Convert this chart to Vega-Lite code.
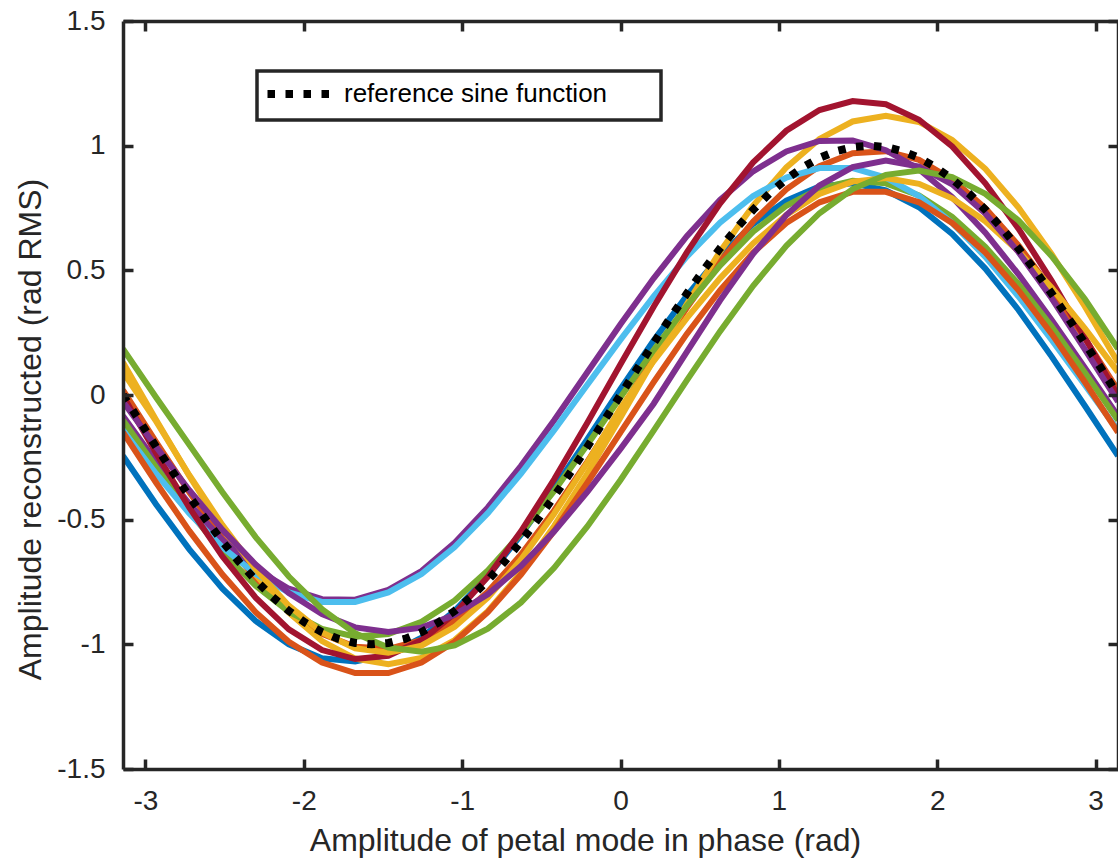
{
"$schema": "https://vega.github.io/schema/vega-lite/v6.json",
"width": 995, "height": 748,
"autosize": {"type": "none"},
"padding": {"left": 123, "top": 21, "right": 0, "bottom": 91},
"background": "white",
"config": {"view": {"stroke": null}, "font": "Liberation Sans"},
"title": {"text": "(a)", "fontSize": 31, "font": "Liberation Sans", "fontWeight": "normal", "color": "#262626", "offset": 23, "baseline": "alphabetic", "dx": -51},
"datasets": {
"recon": [
{"run":"r01","x":-3.1416,"y":-0.244},{"run":"r01","x":-2.9322,"y":-0.439},{"run":"r01","x":-2.7227,"y":-0.619},{"run":"r01","x":-2.5133,"y":-0.777},{"run":"r01","x":-2.3038,"y":-0.906},{"run":"r01","x":-2.0944,"y":-1.0},{"run":"r01","x":-1.885,"y":-1.056},{"run":"r01","x":-1.6755,"y":-1.069},{"run":"r01","x":-1.4661,"y":-1.041},{"run":"r01","x":-1.2566,"y":-0.973},{"run":"r01","x":-1.0472,"y":-0.866},{"run":"r01","x":-0.8378,"y":-0.727},{"run":"r01","x":-0.6283,"y":-0.561},{"run":"r01","x":-0.4189,"y":-0.374},{"run":"r01","x":-0.2094,"y":-0.177},{"run":"r01","x":0,"y":0.024},{"run":"r01","x":0.2094,"y":0.219},{"run":"r01","x":0.4189,"y":0.399},{"run":"r01","x":0.6283,"y":0.557},{"run":"r01","x":0.8378,"y":0.686},{"run":"r01","x":1.0472,"y":0.78},{"run":"r01","x":1.2566,"y":0.836},{"run":"r01","x":1.4661,"y":0.849},{"run":"r01","x":1.6755,"y":0.821},{"run":"r01","x":1.885,"y":0.753},{"run":"r01","x":2.0944,"y":0.646},{"run":"r01","x":2.3038,"y":0.507},{"run":"r01","x":2.5133,"y":0.341},{"run":"r01","x":2.7227,"y":0.154},{"run":"r01","x":2.9322,"y":-0.043},{"run":"r01","x":3.1416,"y":-0.244},
{"run":"r02","x":-3.1416,"y":0.02},{"run":"r02","x":-2.9322,"y":-0.189},{"run":"r02","x":-2.7227,"y":-0.39},{"run":"r02","x":-2.5133,"y":-0.575},{"run":"r02","x":-2.3038,"y":-0.736},{"run":"r02","x":-2.0944,"y":-0.865},{"run":"r02","x":-1.885,"y":-0.958},{"run":"r02","x":-1.6755,"y":-1.01},{"run":"r02","x":-1.4661,"y":-1.018},{"run":"r02","x":-1.2566,"y":-0.983},{"run":"r02","x":-1.0472,"y":-0.905},{"run":"r02","x":-0.8378,"y":-0.789},{"run":"r02","x":-0.6283,"y":-0.64},{"run":"r02","x":-0.4189,"y":-0.463},{"run":"r02","x":-0.2094,"y":-0.267},{"run":"r02","x":0,"y":-0.06},{"run":"r02","x":0.2094,"y":0.149},{"run":"r02","x":0.4189,"y":0.35},{"run":"r02","x":0.6283,"y":0.535},{"run":"r02","x":0.8378,"y":0.696},{"run":"r02","x":1.0472,"y":0.825},{"run":"r02","x":1.2566,"y":0.918},{"run":"r02","x":1.4661,"y":0.97},{"run":"r02","x":1.6755,"y":0.978},{"run":"r02","x":1.885,"y":0.943},{"run":"r02","x":2.0944,"y":0.865},{"run":"r02","x":2.3038,"y":0.749},{"run":"r02","x":2.5133,"y":0.6},{"run":"r02","x":2.7227,"y":0.423},{"run":"r02","x":2.9322,"y":0.227},{"run":"r02","x":3.1416,"y":0.02},
{"run":"r03","x":-3.1416,"y":0.13},{"run":"r03","x":-2.9322,"y":-0.1},{"run":"r03","x":-2.7227,"y":-0.325},{"run":"r03","x":-2.5133,"y":-0.535},{"run":"r03","x":-2.3038,"y":-0.72},{"run":"r03","x":-2.0944,"y":-0.873},{"run":"r03","x":-1.885,"y":-0.987},{"run":"r03","x":-1.6755,"y":-1.057},{"run":"r03","x":-1.4661,"y":-1.08},{"run":"r03","x":-1.2566,"y":-1.055},{"run":"r03","x":-1.0472,"y":-0.983},{"run":"r03","x":-0.8378,"y":-0.867},{"run":"r03","x":-0.6283,"y":-0.712},{"run":"r03","x":-0.4189,"y":-0.525},{"run":"r03","x":-0.2094,"y":-0.315},{"run":"r03","x":0,"y":-0.09},{"run":"r03","x":0.2094,"y":0.14},{"run":"r03","x":0.4189,"y":0.365},{"run":"r03","x":0.6283,"y":0.575},{"run":"r03","x":0.8378,"y":0.76},{"run":"r03","x":1.0472,"y":0.913},{"run":"r03","x":1.2566,"y":1.027},{"run":"r03","x":1.4661,"y":1.097},{"run":"r03","x":1.6755,"y":1.12},{"run":"r03","x":1.885,"y":1.095},{"run":"r03","x":2.0944,"y":1.023},{"run":"r03","x":2.3038,"y":0.907},{"run":"r03","x":2.5133,"y":0.752},{"run":"r03","x":2.7227,"y":0.565},{"run":"r03","x":2.9322,"y":0.355},{"run":"r03","x":3.1416,"y":0.13},
{"run":"r04","x":-3.1416,"y":-0.084},{"run":"r04","x":-2.9322,"y":-0.268},{"run":"r04","x":-2.7227,"y":-0.437},{"run":"r04","x":-2.5133,"y":-0.582},{"run":"r04","x":-2.3038,"y":-0.697},{"run":"r04","x":-2.0944,"y":-0.777},{"run":"r04","x":-1.885,"y":-0.819},{"run":"r04","x":-1.6755,"y":-0.821},{"run":"r04","x":-1.4661,"y":-0.782},{"run":"r04","x":-1.2566,"y":-0.706},{"run":"r04","x":-1.0472,"y":-0.593},{"run":"r04","x":-0.8378,"y":-0.451},{"run":"r04","x":-0.6283,"y":-0.284},{"run":"r04","x":-0.4189,"y":-0.101},{"run":"r04","x":-0.2094,"y":0.091},{"run":"r04","x":0,"y":0.284},{"run":"r04","x":0.2094,"y":0.468},{"run":"r04","x":0.4189,"y":0.637},{"run":"r04","x":0.6283,"y":0.782},{"run":"r04","x":0.8378,"y":0.897},{"run":"r04","x":1.0472,"y":0.977},{"run":"r04","x":1.2566,"y":1.019},{"run":"r04","x":1.4661,"y":1.021},{"run":"r04","x":1.6755,"y":0.982},{"run":"r04","x":1.885,"y":0.906},{"run":"r04","x":2.0944,"y":0.793},{"run":"r04","x":2.3038,"y":0.651},{"run":"r04","x":2.5133,"y":0.484},{"run":"r04","x":2.7227,"y":0.301},{"run":"r04","x":2.9322,"y":0.109},{"run":"r04","x":3.1416,"y":-0.084},
{"run":"r05","x":-3.1416,"y":-0.101},{"run":"r05","x":-2.9322,"y":-0.29},{"run":"r05","x":-2.7227,"y":-0.468},{"run":"r05","x":-2.5133,"y":-0.629},{"run":"r05","x":-2.3038,"y":-0.765},{"run":"r05","x":-2.0944,"y":-0.869},{"run":"r05","x":-1.885,"y":-0.938},{"run":"r05","x":-1.6755,"y":-0.969},{"run":"r05","x":-1.4661,"y":-0.959},{"run":"r05","x":-1.2566,"y":-0.91},{"run":"r05","x":-1.0472,"y":-0.824},{"run":"r05","x":-0.8378,"y":-0.704},{"run":"r05","x":-0.6283,"y":-0.555},{"run":"r05","x":-0.4189,"y":-0.385},{"run":"r05","x":-0.2094,"y":-0.2},{"run":"r05","x":0,"y":-0.009},{"run":"r05","x":0.2094,"y":0.18},{"run":"r05","x":0.4189,"y":0.358},{"run":"r05","x":0.6283,"y":0.519},{"run":"r05","x":0.8378,"y":0.655},{"run":"r05","x":1.0472,"y":0.759},{"run":"r05","x":1.2566,"y":0.828},{"run":"r05","x":1.4661,"y":0.859},{"run":"r05","x":1.6755,"y":0.849},{"run":"r05","x":1.885,"y":0.8},{"run":"r05","x":2.0944,"y":0.714},{"run":"r05","x":2.3038,"y":0.594},{"run":"r05","x":2.5133,"y":0.445},{"run":"r05","x":2.7227,"y":0.275},{"run":"r05","x":2.9322,"y":0.09},{"run":"r05","x":3.1416,"y":-0.101},
{"run":"r06","x":-3.1416,"y":-0.142},{"run":"r06","x":-2.9322,"y":-0.316},{"run":"r06","x":-2.7227,"y":-0.475},{"run":"r06","x":-2.5133,"y":-0.611},{"run":"r06","x":-2.3038,"y":-0.718},{"run":"r06","x":-2.0944,"y":-0.792},{"run":"r06","x":-1.885,"y":-0.83},{"run":"r06","x":-1.6755,"y":-0.83},{"run":"r06","x":-1.4661,"y":-0.792},{"run":"r06","x":-1.2566,"y":-0.718},{"run":"r06","x":-1.0472,"y":-0.61},{"run":"r06","x":-0.8378,"y":-0.474},{"run":"r06","x":-0.6283,"y":-0.315},{"run":"r06","x":-0.4189,"y":-0.141},{"run":"r06","x":-0.2094,"y":0.041},{"run":"r06","x":0,"y":0.222},{"run":"r06","x":0.2094,"y":0.396},{"run":"r06","x":0.4189,"y":0.555},{"run":"r06","x":0.6283,"y":0.691},{"run":"r06","x":0.8378,"y":0.798},{"run":"r06","x":1.0472,"y":0.872},{"run":"r06","x":1.2566,"y":0.91},{"run":"r06","x":1.4661,"y":0.91},{"run":"r06","x":1.6755,"y":0.872},{"run":"r06","x":1.885,"y":0.798},{"run":"r06","x":2.0944,"y":0.69},{"run":"r06","x":2.3038,"y":0.554},{"run":"r06","x":2.5133,"y":0.395},{"run":"r06","x":2.7227,"y":0.221},{"run":"r06","x":2.9322,"y":0.04},{"run":"r06","x":3.1416,"y":-0.142},
{"run":"r07","x":-3.1416,"y":-0.003},{"run":"r07","x":-2.9322,"y":-0.234},{"run":"r07","x":-2.7227,"y":-0.452},{"run":"r07","x":-2.5133,"y":-0.648},{"run":"r07","x":-2.3038,"y":-0.813},{"run":"r07","x":-2.0944,"y":-0.94},{"run":"r07","x":-1.885,"y":-1.023},{"run":"r07","x":-1.6755,"y":-1.059},{"run":"r07","x":-1.4661,"y":-1.046},{"run":"r07","x":-1.2566,"y":-0.984},{"run":"r07","x":-1.0472,"y":-0.877},{"run":"r07","x":-0.8378,"y":-0.729},{"run":"r07","x":-0.6283,"y":-0.547},{"run":"r07","x":-0.4189,"y":-0.338},{"run":"r07","x":-0.2094,"y":-0.111},{"run":"r07","x":0,"y":0.123},{"run":"r07","x":0.2094,"y":0.354},{"run":"r07","x":0.4189,"y":0.572},{"run":"r07","x":0.6283,"y":0.768},{"run":"r07","x":0.8378,"y":0.933},{"run":"r07","x":1.0472,"y":1.06},{"run":"r07","x":1.2566,"y":1.143},{"run":"r07","x":1.4661,"y":1.179},{"run":"r07","x":1.6755,"y":1.166},{"run":"r07","x":1.885,"y":1.104},{"run":"r07","x":2.0944,"y":0.997},{"run":"r07","x":2.3038,"y":0.849},{"run":"r07","x":2.5133,"y":0.667},{"run":"r07","x":2.7227,"y":0.458},{"run":"r07","x":2.9322,"y":0.231},{"run":"r07","x":3.1416,"y":-0.003},
{"run":"r08","x":-3.1416,"y":-0.15},{"run":"r08","x":-2.9322,"y":-0.352},{"run":"r08","x":-2.7227,"y":-0.545},{"run":"r08","x":-2.5133,"y":-0.72},{"run":"r08","x":-2.3038,"y":-0.871},{"run":"r08","x":-2.0944,"y":-0.99},{"run":"r08","x":-1.885,"y":-1.073},{"run":"r08","x":-1.6755,"y":-1.115},{"run":"r08","x":-1.4661,"y":-1.115},{"run":"r08","x":-1.2566,"y":-1.073},{"run":"r08","x":-1.0472,"y":-0.99},{"run":"r08","x":-0.8378,"y":-0.871},{"run":"r08","x":-0.6283,"y":-0.72},{"run":"r08","x":-0.4189,"y":-0.545},{"run":"r08","x":-0.2094,"y":-0.352},{"run":"r08","x":0,"y":-0.15},{"run":"r08","x":0.2094,"y":0.052},{"run":"r08","x":0.4189,"y":0.245},{"run":"r08","x":0.6283,"y":0.42},{"run":"r08","x":0.8378,"y":0.571},{"run":"r08","x":1.0472,"y":0.69},{"run":"r08","x":1.2566,"y":0.773},{"run":"r08","x":1.4661,"y":0.815},{"run":"r08","x":1.6755,"y":0.815},{"run":"r08","x":1.885,"y":0.773},{"run":"r08","x":2.0944,"y":0.69},{"run":"r08","x":2.3038,"y":0.571},{"run":"r08","x":2.5133,"y":0.42},{"run":"r08","x":2.7227,"y":0.245},{"run":"r08","x":2.9322,"y":0.052},{"run":"r08","x":3.1416,"y":-0.15},
{"run":"r09","x":-3.1416,"y":0.092},{"run":"r09","x":-2.9322,"y":-0.106},{"run":"r09","x":-2.7227,"y":-0.322},{"run":"r09","x":-2.5133,"y":-0.522},{"run":"r09","x":-2.3038,"y":-0.699},{"run":"r09","x":-2.0944,"y":-0.845},{"run":"r09","x":-1.885,"y":-0.952},{"run":"r09","x":-1.6755,"y":-1.016},{"run":"r09","x":-1.4661,"y":-1.034},{"run":"r09","x":-1.2566,"y":-1.005},{"run":"r09","x":-1.0472,"y":-0.93},{"run":"r09","x":-0.8378,"y":-0.813},{"run":"r09","x":-0.6283,"y":-0.66},{"run":"r09","x":-0.4189,"y":-0.476},{"run":"r09","x":-0.2094,"y":-0.271},{"run":"r09","x":0,"y":-0.053},{"run":"r09","x":0.2094,"y":0.136},{"run":"r09","x":0.4189,"y":0.308},{"run":"r09","x":0.6283,"y":0.468},{"run":"r09","x":0.8378,"y":0.608},{"run":"r09","x":1.0472,"y":0.722},{"run":"r09","x":1.2566,"y":0.806},{"run":"r09","x":1.4661,"y":0.856},{"run":"r09","x":1.6755,"y":0.87},{"run":"r09","x":1.885,"y":0.847},{"run":"r09","x":2.0944,"y":0.789},{"run":"r09","x":2.3038,"y":0.697},{"run":"r09","x":2.5133,"y":0.576},{"run":"r09","x":2.7227,"y":0.43},{"run":"r09","x":2.9322,"y":0.267},{"run":"r09","x":3.1416,"y":0.092},
{"run":"r10","x":-3.1416,"y":-0.027},{"run":"r10","x":-2.9322,"y":-0.208},{"run":"r10","x":-2.7227,"y":-0.382},{"run":"r10","x":-2.5133,"y":-0.541},{"run":"r10","x":-2.3038,"y":-0.68},{"run":"r10","x":-2.0944,"y":-0.794},{"run":"r10","x":-1.885,"y":-0.879},{"run":"r10","x":-1.6755,"y":-0.932},{"run":"r10","x":-1.4661,"y":-0.95},{"run":"r10","x":-1.2566,"y":-0.933},{"run":"r10","x":-1.0472,"y":-0.882},{"run":"r10","x":-0.8378,"y":-0.799},{"run":"r10","x":-0.6283,"y":-0.686},{"run":"r10","x":-0.4189,"y":-0.547},{"run":"r10","x":-0.2094,"y":-0.389},{"run":"r10","x":0,"y":-0.216},{"run":"r10","x":0.2094,"y":-0.035},{"run":"r10","x":0.4189,"y":0.173},{"run":"r10","x":0.6283,"y":0.379},{"run":"r10","x":0.8378,"y":0.566},{"run":"r10","x":1.0472,"y":0.722},{"run":"r10","x":1.2566,"y":0.84},{"run":"r10","x":1.4661,"y":0.914},{"run":"r10","x":1.6755,"y":0.94},{"run":"r10","x":1.885,"y":0.916},{"run":"r10","x":2.0944,"y":0.845},{"run":"r10","x":2.3038,"y":0.728},{"run":"r10","x":2.5133,"y":0.573},{"run":"r10","x":2.7227,"y":0.388},{"run":"r10","x":2.9322,"y":0.183},{"run":"r10","x":3.1416,"y":-0.027},
{"run":"r11","x":-3.1416,"y":0.185},{"run":"r11","x":-2.9322,"y":-0.01},{"run":"r11","x":-2.7227,"y":-0.2},{"run":"r11","x":-2.5133,"y":-0.39},{"run":"r11","x":-2.3038,"y":-0.57},{"run":"r11","x":-2.0944,"y":-0.728},{"run":"r11","x":-1.885,"y":-0.859},{"run":"r11","x":-1.6755,"y":-0.956},{"run":"r11","x":-1.4661,"y":-1.013},{"run":"r11","x":-1.2566,"y":-1.03},{"run":"r11","x":-1.0472,"y":-1.004},{"run":"r11","x":-0.8378,"y":-0.937},{"run":"r11","x":-0.6283,"y":-0.832},{"run":"r11","x":-0.4189,"y":-0.693},{"run":"r11","x":-0.2094,"y":-0.527},{"run":"r11","x":0,"y":-0.341},{"run":"r11","x":0.2094,"y":-0.143},{"run":"r11","x":0.4189,"y":0.059},{"run":"r11","x":0.6283,"y":0.255},{"run":"r11","x":0.8378,"y":0.438},{"run":"r11","x":1.0472,"y":0.598},{"run":"r11","x":1.2566,"y":0.729},{"run":"r11","x":1.4661,"y":0.826},{"run":"r11","x":1.6755,"y":0.883},{"run":"r11","x":1.885,"y":0.9},{"run":"r11","x":2.0944,"y":0.874},{"run":"r11","x":2.3038,"y":0.807},{"run":"r11","x":2.5133,"y":0.7},{"run":"r11","x":2.7227,"y":0.557},{"run":"r11","x":2.9322,"y":0.385},{"run":"r11","x":3.1416,"y":0.185}
],
"ref": [
{"name":"reference sine function","x":-3.1416,"y":0},{"name":"reference sine function","x":-3.0369,"y":-0.1045},{"name":"reference sine function","x":-2.9322,"y":-0.2079},{"name":"reference sine function","x":-2.8274,"y":-0.309},{"name":"reference sine function","x":-2.7227,"y":-0.4067},{"name":"reference sine function","x":-2.618,"y":-0.5},{"name":"reference sine function","x":-2.5133,"y":-0.5878},{"name":"reference sine function","x":-2.4086,"y":-0.6691},{"name":"reference sine function","x":-2.3038,"y":-0.7431},{"name":"reference sine function","x":-2.1991,"y":-0.809},{"name":"reference sine function","x":-2.0944,"y":-0.866},{"name":"reference sine function","x":-1.9897,"y":-0.9135},{"name":"reference sine function","x":-1.885,"y":-0.9511},{"name":"reference sine function","x":-1.7802,"y":-0.9781},{"name":"reference sine function","x":-1.6755,"y":-0.9945},{"name":"reference sine function","x":-1.5708,"y":-1},{"name":"reference sine function","x":-1.4661,"y":-0.9945},{"name":"reference sine function","x":-1.3614,"y":-0.9781},{"name":"reference sine function","x":-1.2566,"y":-0.9511},{"name":"reference sine function","x":-1.1519,"y":-0.9135},{"name":"reference sine function","x":-1.0472,"y":-0.866},{"name":"reference sine function","x":-0.9425,"y":-0.809},{"name":"reference sine function","x":-0.8378,"y":-0.7431},{"name":"reference sine function","x":-0.733,"y":-0.6691},{"name":"reference sine function","x":-0.6283,"y":-0.5878},{"name":"reference sine function","x":-0.5236,"y":-0.5},{"name":"reference sine function","x":-0.4189,"y":-0.4067},{"name":"reference sine function","x":-0.3142,"y":-0.309},{"name":"reference sine function","x":-0.2094,"y":-0.2079},{"name":"reference sine function","x":-0.1047,"y":-0.1045},{"name":"reference sine function","x":0,"y":0},{"name":"reference sine function","x":0.1047,"y":0.1045},{"name":"reference sine function","x":0.2094,"y":0.2079},{"name":"reference sine function","x":0.3142,"y":0.309},{"name":"reference sine function","x":0.4189,"y":0.4067},{"name":"reference sine function","x":0.5236,"y":0.5},{"name":"reference sine function","x":0.6283,"y":0.5878},{"name":"reference sine function","x":0.733,"y":0.6691},{"name":"reference sine function","x":0.8378,"y":0.7431},{"name":"reference sine function","x":0.9425,"y":0.809},{"name":"reference sine function","x":1.0472,"y":0.866},{"name":"reference sine function","x":1.1519,"y":0.9135},{"name":"reference sine function","x":1.2566,"y":0.9511},{"name":"reference sine function","x":1.3614,"y":0.9781},{"name":"reference sine function","x":1.4661,"y":0.9945},{"name":"reference sine function","x":1.5708,"y":1},{"name":"reference sine function","x":1.6755,"y":0.9945},{"name":"reference sine function","x":1.7802,"y":0.9781},{"name":"reference sine function","x":1.885,"y":0.9511},{"name":"reference sine function","x":1.9897,"y":0.9135},{"name":"reference sine function","x":2.0944,"y":0.866},{"name":"reference sine function","x":2.1991,"y":0.809},{"name":"reference sine function","x":2.3038,"y":0.7431},{"name":"reference sine function","x":2.4086,"y":0.6691},{"name":"reference sine function","x":2.5133,"y":0.5878},{"name":"reference sine function","x":2.618,"y":0.5},{"name":"reference sine function","x":2.7227,"y":0.4067},{"name":"reference sine function","x":2.8274,"y":0.309},{"name":"reference sine function","x":2.9322,"y":0.2079},{"name":"reference sine function","x":3.0369,"y":0.1045},{"name":"reference sine function","x":3.1416,"y":0}
]
},
"resolve": {"axis": {"x": "independent", "y": "independent"}},
"layer": [
{
"data": {"name": "recon"},
"mark": {"type": "line", "strokeWidth": 6, "clip": true},
"encoding": {
"x": {"field": "x", "type": "quantitative", "scale": {"domain": [-3.1416, 3.1416], "nice": false, "zero": false},
"axis": {"orient": "bottom", "values": [-3,-2,-1,0,1,2,3], "labelExpr": "'' + datum.value", "title": "Amplitude of petal mode in phase (rad)", "grid": false, "zindex": 1, "domainColor": "#262626", "domainWidth": 3.5, "tickColor": "#262626", "tickWidth": 3.5, "tickSize": -10, "labelPadding": 28, "labelFont": "Liberation Sans", "labelFontSize": 28, "labelColor": "#262626", "labelFlush": false, "labelOverlap": false, "titleFont": "Liberation Sans", "titleFontSize": 32, "titleFontWeight": "normal", "titleColor": "#262626", "titlePadding": 10, "titleX": 462}},
"y": {"field": "y", "type": "quantitative", "scale": {"domain": [-1.5, 1.5], "nice": false, "zero": false},
"axis": {"orient": "left", "values": [-1.5,-1,-0.5,0,0.5,1,1.5], "labelExpr": "'' + datum.value", "title": "Amplitude reconstructed (rad RMS)", "grid": false, "zindex": 1, "domainColor": "#262626", "domainWidth": 3.5, "tickColor": "#262626", "tickWidth": 3.5, "tickSize": -10, "labelPadding": 28, "labelFont": "Liberation Sans", "labelFontSize": 28, "labelColor": "#262626", "labelFlush": false, "labelOverlap": false, "titleFont": "Liberation Sans", "titleFontSize": 32, "titleFontWeight": "normal", "titleColor": "#262626", "titlePadding": 9, "titleY": 408}},
"color": {"field": "run", "type": "nominal", "legend": null,
"scale": {"domain": ["r01","r02","r03","r04","r05","r06","r07","r08","r09","r10","r11"],
"range": ["#0072BD","#D95319","#EDB120","#7E2F8E","#77AC30","#4DBEEE","#A2142F","#D95319","#EDB120","#7E2F8E","#77AC30"]}}
}
},
{
"data": {"name": "ref"},
"mark": {"type": "line", "color": "black", "strokeWidth": 8, "strokeCap": "butt", "clip": true},
"encoding": {
"x": {"field": "x", "type": "quantitative", "scale": {"domain": [-3.1416, 3.1416], "nice": false, "zero": false},
"axis": {"orient": "top", "values": [-3,-2,-1,0,1,2,3], "labels": false, "title": null, "grid": false, "zindex": 1, "domainColor": "#262626", "domainWidth": 3.5, "tickColor": "#262626", "tickWidth": 3.5, "tickSize": -10}},
"y": {"field": "y", "type": "quantitative", "scale": {"domain": [-1.5, 1.5], "nice": false, "zero": false},
"axis": {"orient": "right", "values": [-1.5,-1,-0.5,0,0.5,1,1.5], "labels": false, "title": null, "grid": false, "zindex": 1, "domainColor": "#262626", "domainWidth": 3.5, "tickColor": "#262626", "tickWidth": 3.5, "tickSize": -10}},
"strokeDash": {"field": "name", "type": "nominal",
"scale": {"domain": ["reference sine function"], "range": [[7.5, 10.5]]},
"legend": {"orient": "none", "legendX": 134, "legendY": 50, "title": null, "symbolType": "M-4,0H4", "symbolSize": 264, "symbolOffset": 20, "symbolStrokeWidth": 8, "symbolStrokeColor": "black", "labelFont": "Liberation Sans", "labelFontSize": 26, "labelColor": "black", "labelOffset": 31, "labelLimit": 600, "padding": 10, "strokeColor": "#262626", "fillColor": "white", "labelExpr": "datum.label + '\u00a0\u00a0\u00a0\u00a0\u00a0\u00a0\u200b'",
"encode": {"legend": {"update": {"strokeWidth": {"value": 3.5}}}}}}
}
}
]
}
